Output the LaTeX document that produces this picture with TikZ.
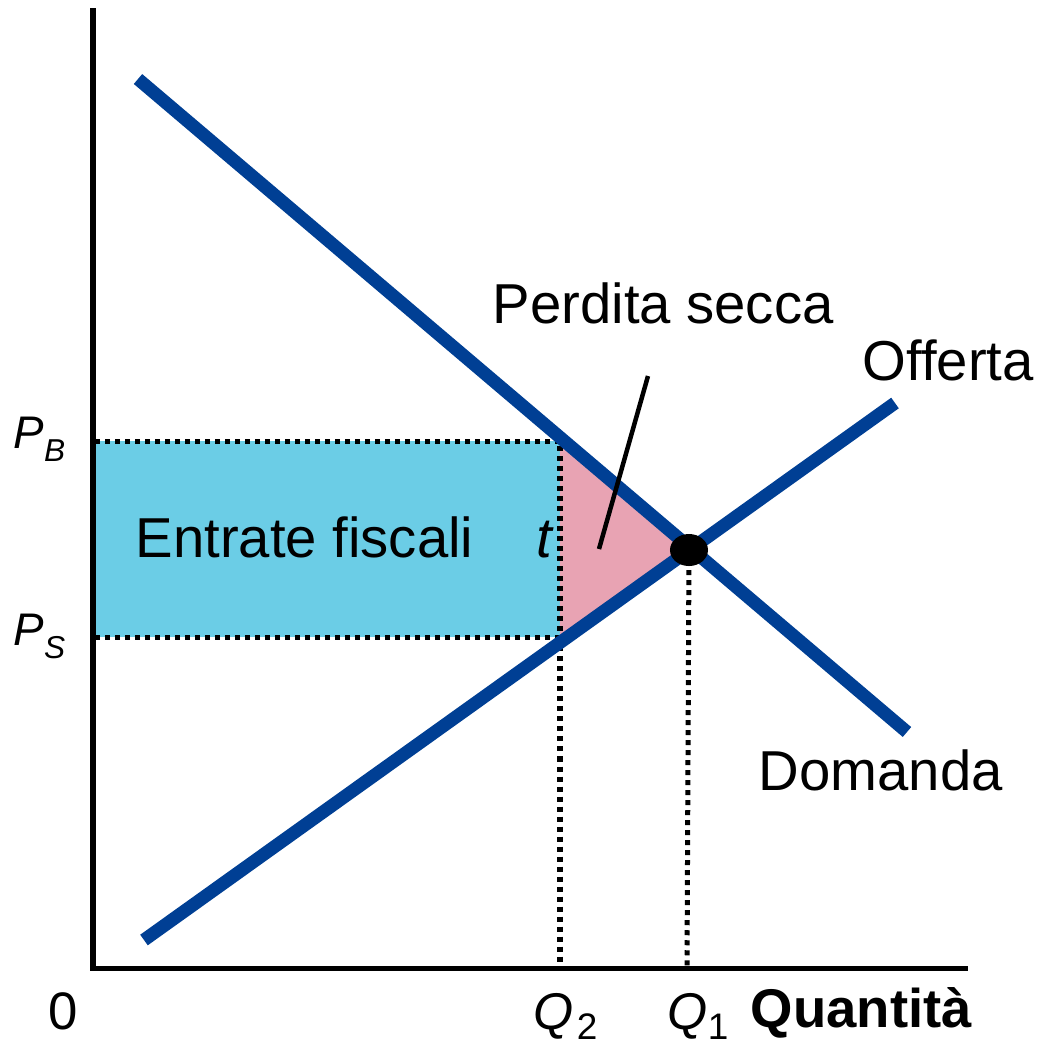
\documentclass[tikz,border=0pt]{standalone}
\usepackage{fontspec}
\setmainfont{Liberation Sans}
\definecolor{curveblue}{RGB}{0,63,148}
\definecolor{taxblue}{RGB}{107,205,230}
\definecolor{losspink}{RGB}{232,163,179}
\newcommand{\sublab}[5]{\fontsize{#3}{#3}\selectfont\textit{#1}\raisebox{-#5}{\fontsize{#4}{#4}\selectfont #2}}
\begin{document}
\begin{tikzpicture}[x=0.01cm, y=-0.01cm,
    curve/.style={line width=0.13cm, draw=curveblue},
    guide/.style={line width=0.05cm, dash pattern=on 0.05cm off 0.05cm},
    lbl/.style={font=\fontsize{16}{18}\selectfont, inner sep=0pt, anchor=base west}
]
    \useasboundingbox (0,0) rectangle (1039,1044);

    % Punti
    \coordinate (orig) at (93,968);
    \coordinate (ytop) at (93,8);
    \coordinate (xend) at (968,968);
    \coordinate (d1) at (138,79);
    \coordinate (d2) at (907,732);
    \coordinate (s1) at (144,940);
    \coordinate (s2) at (895,403);
    \coordinate (eq) at (689,550);
    \coordinate (pb) at (95,441);
    \coordinate (ps) at (95,637);
    \coordinate (q2b) at (560,441);
    \coordinate (q2s) at (560,637);
    \coordinate (q2) at (560,968);
    \coordinate (q1) at (687,968);
    \coordinate (ptop) at (648,376);
    \coordinate (pbot) at (599,549);

    % Aree
    \fill[taxblue] (pb) rectangle (q2s);
    \fill[losspink] (q2b) -- (eq) -- (q2s) -- cycle;

    % Linee tratteggiate
    \draw[guide] (pb) -- (q2b) -- (q2);
    \draw[guide] (ps) -- (q2s);
    \draw[guide] (eq) -- (q1);

    % Assi
    \draw[line width=0.05cm] (ytop) -- (orig) -- (xend);

    % Curve
    \draw[curve] (d1) -- (d2);
    \draw[curve] (s1) -- (s2);
    \fill (eq) ellipse [x radius=0.19cm, y radius=0.16cm];

    % Freccia
    \draw[line width=0.045cm] (ptop) -- (pbot);

    % Etichette
    \node[lbl] (loss) at (492,323) {Perdita secca};
    \node[lbl] (supply) at (862,380) {Offerta};
    \node[lbl] (demand) at (758,790) {Domanda};
    \node[lbl] (revenue) at (135,557) {Entrate fiscali};
    \node[lbl] (tax) at (536,557) {\textit{t}};
    \node[lbl] (pblab) at (13,448) {\sublab{P}{\textit{B}}{13}{9}{0.13cm}};
    \node[lbl] (pslab) at (13,645) {\sublab{P}{\textit{S}}{13}{9}{0.13cm}};
    \node[lbl, font=\fontsize{15}{15}\selectfont] (zero) at (48,1029) {0};
    \node[lbl] (q2lab) at (533,1029) {\sublab{Q}{\kern0.03cm 2}{14.7}{10.5}{0.1cm}};
    \node[lbl] (q1lab) at (667,1029) {\sublab{Q}{1}{14.7}{10.5}{0.1cm}};
    \node[lbl, font=\fontsize{15.5}{16}\selectfont\bfseries] (qty) at (750,1027) {Quantità};
\end{tikzpicture}
\end{document}
